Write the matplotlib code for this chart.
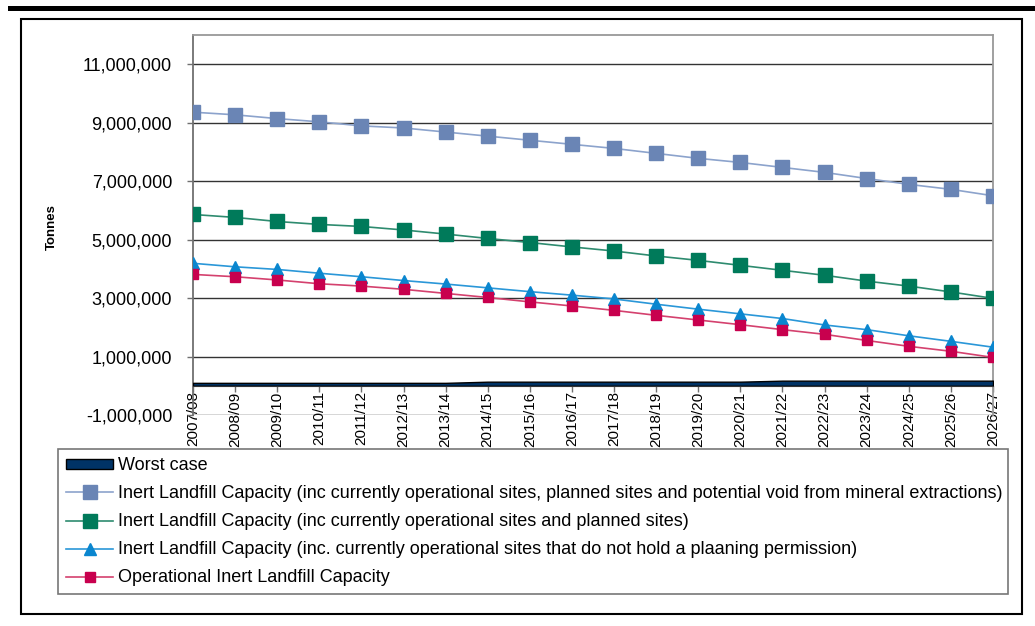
import matplotlib
matplotlib.use("Agg")
import matplotlib.pyplot as plt
from matplotlib.patches import Patch, Rectangle
from matplotlib.ticker import FuncFormatter

plt.rcParams['font.family'] = ['Liberation Sans', 'DejaVu Sans']

years = ['2007/08', '2008/09', '2009/10', '2010/11', '2011/12', '2012/13', '2013/14',
         '2014/15', '2015/16', '2016/17', '2017/18', '2018/19', '2019/20', '2020/21',
         '2021/22', '2022/23', '2023/24', '2024/25', '2025/26', '2026/27']

worst_case = [100000, 100000, 100000, 100000, 100000, 100000, 100000,
              140000, 140000, 140000, 140000, 140000, 140000, 140000,
              175000, 175000, 175000, 175000, 175000, 175000]

cap_all = [9360000, 9270000, 9140000, 9030000, 8890000, 8820000, 8680000,
           8540000, 8400000, 8260000, 8120000, 7950000, 7780000, 7640000,
           7470000, 7300000, 7090000, 6890000, 6720000, 6500000]

cap_planned = [5860000, 5760000, 5620000, 5520000, 5450000, 5330000, 5190000,
               5040000, 4900000, 4750000, 4610000, 4440000, 4290000, 4120000,
               3950000, 3780000, 3580000, 3410000, 3210000, 2990000]

cap_no_permission = [4190000, 4070000, 3980000, 3850000, 3730000, 3600000, 3480000,
                     3350000, 3220000, 3100000, 2970000, 2790000, 2620000, 2460000,
                     2300000, 2080000, 1920000, 1710000, 1520000, 1320000]

cap_operational = [3810000, 3730000, 3620000, 3490000, 3410000, 3300000, 3160000,
                   3020000, 2870000, 2730000, 2580000, 2410000, 2250000, 2090000,
                   1920000, 1760000, 1550000, 1350000, 1180000, 970000]

labels = [
    'Worst case',
    'Inert Landfill Capacity (inc currently operational sites, planned sites and potential void from mineral extractions)',
    'Inert Landfill Capacity (inc currently operational sites and planned sites)',
    'Inert Landfill Capacity (inc. currently operational sites that do not hold a plaaning permission)',
    'Operational Inert Landfill Capacity',
]

W, H = 1035, 626
fig = plt.figure(figsize=(W / 100, H / 100), dpi=100)
ax = fig.add_axes([193 / W, 1 - 415 / H, 800 / W, 380 / H])

x = list(range(len(years)))

ax.fill_between(x, 0, worst_case, facecolor='#003366', edgecolor='black', linewidth=1, zorder=3)
l1, = ax.plot(x, cap_all, color='#8CA3CC', lw=1.2, marker='s', ms=10,
              mfc='#6A85B5', mec='#6A85B5', zorder=4)
l2, = ax.plot(x, cap_planned, color='#2E8B6F', lw=1.2, marker='s', ms=10.5,
              mfc='#007A5A', mec='#007A5A', zorder=4)
l3, = ax.plot(x, cap_no_permission, color='#2A97D8', lw=1.2, marker='^', ms=8,
              mfc='#0A86CF', mec='#0A86CF', zorder=4)
l4, = ax.plot(x, cap_operational, color='#D4416E', lw=1.2, marker='s', ms=7,
              mfc='#C8004E', mec='#C8004E', zorder=4)

ax.set_xlim(0, len(years) - 1)
ax.set_ylim(-1000000, 12000000)
ax.set_yticks(range(-1000000, 12000001, 2000000))
ax.yaxis.set_major_formatter(FuncFormatter(lambda v, p: f'{int(v):,}'))
ax.grid(axis='y', color='#333333', lw=1)
ax.set_axisbelow(True)

ax.set_xticks(x)
ax.set_xticklabels(years)
ax.spines['bottom'].set_position(('data', 0))
ax.spines['bottom'].set_color('#333333')
ax.spines['bottom'].set_zorder(5)
for s in ['left', 'top', 'right']:
    ax.spines[s].set_color('#999999')
    ax.spines[s].set_linewidth(1.3)
ax.spines['left'].set_color('#707070')
ax.tick_params(axis='x', length=4, width=1, color='#707070', pad=0,
               labelsize=11, labelrotation=90)
ax.tick_params(axis='y', length=4, width=1, color='#707070', pad=11, labelsize=13)
for t in ax.get_xticklabels():
    t.set_va('top')
    t.set_ha('center')

fig.text(52 / W, 1 - 227 / H, 'Tonnes', rotation=90, fontweight='bold',
         fontsize=9.5, ha='center', va='center')

handles = [Patch(facecolor='#003366', edgecolor='black', linewidth=1), l1, l2, l3, l4]
leg = fig.legend(handles, labels, loc='upper left', mode='expand',
                 bbox_to_anchor=(58 / W, 1 - 595 / H, 950 / W, 146 / H),
                 fontsize=13, frameon=True, fancybox=False, borderpad=0.45,
                 labelspacing=0.61, handlelength=2.6, handletextpad=0.3,
                 handleheight=0.45, borderaxespad=0)
leg.get_frame().set_edgecolor('#555555')
leg.get_frame().set_linewidth(1.2)

# outer frame and heading bar
fig.patches.append(Rectangle((21 / W, 1 - 614 / H), 1001 / W, 595 / H,
                             transform=fig.transFigure, fill=False,
                             edgecolor='black', linewidth=1.5))
fig.patches.append(Rectangle((8 / W, 1 - 11 / H), 1027 / W, 5 / H,
                             transform=fig.transFigure, facecolor='black',
                             edgecolor='none'))

fig.savefig('out.png', dpi=100)
